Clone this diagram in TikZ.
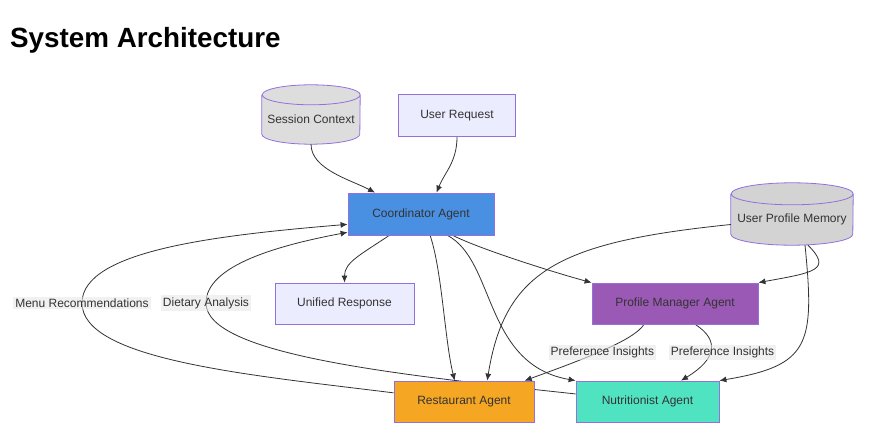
\documentclass[tikz,border=0pt]{standalone}
\usepackage{fontspec}
\setmainfont{Liberation Sans}
\usetikzlibrary{shapes,arrows.meta,backgrounds}
\definecolor{coordblue}{HTML}{4A90E2}
\definecolor{pmanpurple}{HTML}{9B59B6}
\definecolor{restorange}{HTML}{F5A623}
\definecolor{nutrteal}{HTML}{50E3C2}
\definecolor{lavender}{HTML}{ECECFF}
\definecolor{nodeborder}{HTML}{9370DB}
\definecolor{sessgray}{HTML}{DDDDDD}
\definecolor{memgray}{HTML}{D3D3D3}
\definecolor{textgray}{HTML}{333333}
\definecolor{labelgray}{HTML}{E8E8E8}
\tikzstyle{agent} = [rectangle, minimum height=41pt, draw=nodeborder, line width=0.8pt, text=textgray, font=\fontsize{12}{14}\selectfont]
\tikzstyle{plain} = [agent, fill=lavender]
\tikzstyle{store} = [rectangle, text=textgray, font=\fontsize{12}{14}\selectfont]
\tikzstyle{storeline} = [draw=nodeborder, line width=0.8pt]
\tikzstyle{arrow} = [line width=0.8pt, draw=textgray, -{Latex[length=7pt,width=6pt]}]
\tikzstyle{edgelabel} = [fill=labelgray, fill opacity=0.6, text opacity=1, text=textgray, inner sep=2pt, font=\fontsize{12}{14}\selectfont]

\begin{document}
\begin{tikzpicture}[x=1pt, y=1pt, node distance=98pt]
\useasboundingbox (0,0) rectangle (875,445);

\node (title) [anchor=base west, inner sep=0pt, font=\bfseries\fontsize{27.8}{32}\selectfont] at (10,397) {System Architecture};

\node (coord) [agent, fill=coordblue, minimum width=146pt, minimum height=42pt] at (421,231) {Coordinator Agent};

\node (ureq) [plain, minimum width=117pt, minimum height=42pt, above of=coord, xshift=36pt, yshift=0.5pt] {User Request};
\node (sess) [store, minimum width=98pt, minimum height=49pt, above of=coord, xshift=-110pt, yshift=-3.5pt] {Session Context};
\node (upm) [store, minimum width=122pt, minimum height=51pt, right of=coord, xshift=273pt, yshift=-5.5pt] {User Profile Memory};

\node (uresp) [plain, minimum width=139pt, below of=coord, xshift=-76.5pt, yshift=8.5pt] {Unified Response};
\node (pman) [agent, fill=pmanpurple, minimum width=166pt, below of=coord, xshift=254pt, yshift=8.5pt] {Profile Manager Agent};

\node (rest) [agent, fill=restorange, minimum width=140pt, below of=uresp, xshift=119.5pt] {Restaurant Agent};
\node (nutr) [agent, fill=nutrteal, minimum width=143pt, below of=pman, xshift=-27.5pt] {Nutritionist Agent};

\begin{pgfonlayer}{background}
\fill[white] (0,0) rectangle (875,445);

% cylinder bodies behind the store texts
\foreach \n/\rx/\ry/\col in {sess/49/10/sessgray, upm/61/11/memgray}
  \draw[storeline, fill=\col] (\n.north west) -- ([yshift=\ry pt]\n.south west)
    arc[start angle=180, end angle=360, x radius=\rx pt, y radius=\ry pt] -- (\n.north east)
    arc[start angle=0, end angle=360, x radius=\rx pt, y radius=\ry pt];

\draw [arrow] (sess.south) .. controls +(0,-25) and +(-25,13) .. (coord.155);
\draw [arrow] (ureq.south) .. controls +(0,-25) and +(8,20) .. (coord.54);
\draw [arrow] (coord.214) .. controls +(-30,-20) and +(0,20) .. (uresp.north);
\draw [arrow] (coord.-67) .. controls +(12,-35) and +(-10,40) .. (rest.114);
\draw [arrow] (coord.-39) .. controls +(48,-25) and +(-92,16) .. (nutr.north west);
\draw [arrow] (coord.-34) .. controls +(30,-15) and +(-30,8) .. (pman.north west);
\draw [arrow] ([yshift=-5pt]upm.west) .. controls (560,203) and (505,175) .. (rest.42);
\draw [arrow] ([xshift=16pt]upm.south) .. controls +(25,-25) and +(55,10) .. (pman.north east);
\draw [arrow] ([xshift=13pt]upm.south) .. controls +(10,-100) and +(90,15) .. (nutr.north east);
\draw [arrow] (pman.214) .. controls +(-10,-16) and +(58,21) .. node [edgelabel, yshift=-2pt] {Preference Insights} (rest.19);
\draw [arrow] (pman.-46) .. controls +(25,-16) and +(35,21) .. node [edgelabel, xshift=12pt, yshift=-2pt] {Preference Insights} (nutr.32);
\draw [arrow] (rest.173) .. controls (250,70) and (82,85) .. (82,142) node [edgelabel] {Menu Recommendations} .. controls (82,195) and (220,210) .. (coord.188);
\draw [arrow] (nutr.174) .. controls (400,70) and (206,90) .. (206,142) node [edgelabel] {Dietary Analysis} .. controls (206,180) and (280,200) .. (coord.194);
\end{pgfonlayer}

\end{tikzpicture}
\end{document}
